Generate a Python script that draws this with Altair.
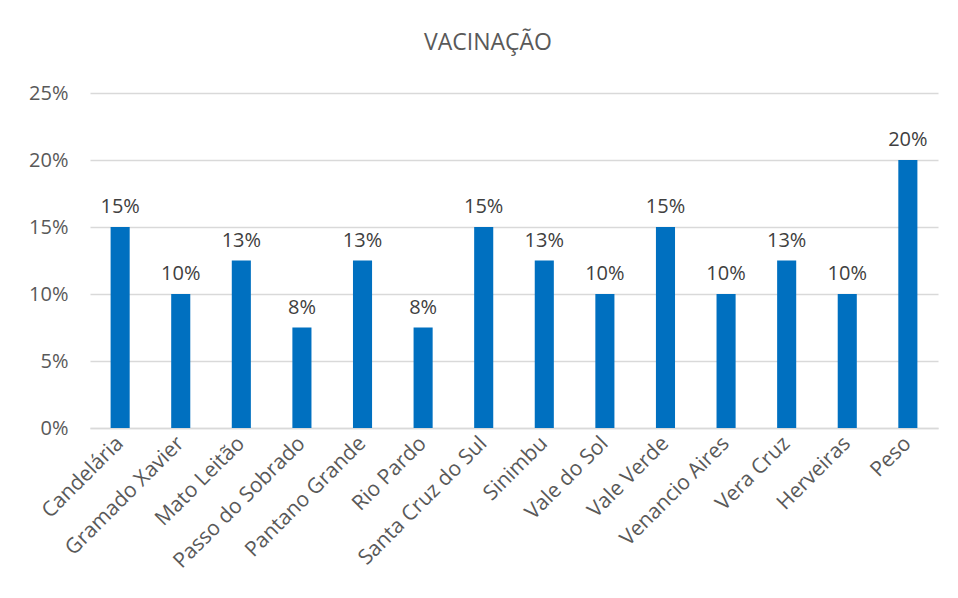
import altair as alt
import pandas as pd

cidades = ["Candelária", "Gramado Xavier", "Mato Leitão", "Passo do Sobrado",
           "Pantano Grande", "Rio Pardo", "Santa Cruz do Sul", "Sinimbu",
           "Vale do Sol", "Vale Verde", "Venancio Aires", "Vera Cruz",
           "Herveiras", "Peso"]
valores = [0.15, 0.10, 0.125, 0.075, 0.125, 0.075, 0.15, 0.125,
           0.10, 0.15, 0.10, 0.125, 0.10, 0.20]
rotulos = ["15%", "10%", "13%", "8%", "13%", "8%", "15%", "13%",
           "10%", "15%", "10%", "13%", "10%", "20%"]

df = pd.DataFrame({"cidade": cidades, "valor": valores, "rotulo": rotulos})

FONT = "Open Sans"
x = alt.X("cidade:N", sort=cidades, title=None,
          scale=alt.Scale(paddingInner=0.685, paddingOuter=0.34),
          axis=alt.Axis(labelAngle=-45, labelAlign="right", labelBaseline="middle",
                        labelFontSize=21, labelColor="#595959", labelFont=FONT,
                        labelPadding=12, ticks=False, domainColor="#D9D9D9",
                        domainWidth=1.3, grid=False, labelOverlap=False,
                        labelLimit=300))
y = alt.Y("valor:Q", title=None,
          scale=alt.Scale(domain=[0, 0.25], nice=False),
          axis=alt.Axis(values=[0, 0.05, 0.10, 0.15, 0.20, 0.25], format=".0%",
                        labelFontSize=20, labelColor="#595959", labelFont=FONT,
                        labelPadding=22, ticks=False, domain=False,
                        gridColor="#D9D9D9", gridWidth=1.3))

bars = alt.Chart(df).mark_bar(color="#0070C0").encode(x=x, y=y)
text = alt.Chart(df).mark_text(baseline="bottom", dy=-10, fontSize=20,
                               color="#404040", font=FONT).encode(
    x=alt.X("cidade:N", sort=cidades), y="valor:Q", text="rotulo:N")

chart = (bars + text).properties(
    width=848, height=335,
    title=alt.TitleParams("VACINAÇÃO", fontSize=23, font=FONT, color="#595959",
                          fontWeight="normal", anchor="middle", offset=28, dx=-26),
    padding={"left": 82, "top": 85, "right": 12, "bottom": 160},
    autosize=alt.AutoSizeParams(type="none"),
).configure_view(stroke=None)

chart.save("out.html", embed_options={"renderer": "svg", "actions": False})
